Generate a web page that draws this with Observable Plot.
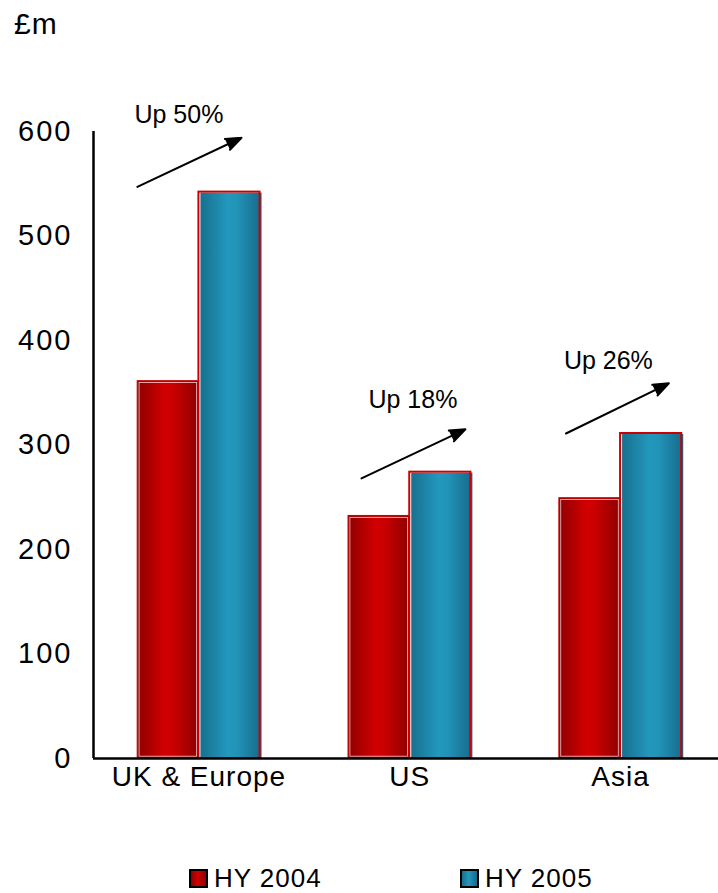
<!DOCTYPE html>
<html>
<head>
<meta charset="utf-8">
<script src="https://cdn.jsdelivr.net/npm/d3@7"></script>
<script src="https://cdn.jsdelivr.net/npm/@observablehq/plot@0.6"></script>
<style>
  html, body { margin: 0; padding: 0; background: #fff; }
  body {
    width: 718px; height: 893px; position: relative; overflow: hidden;
    font-family: "Liberation Sans", Arial, Helvetica, sans-serif; color: #000;
  }
  #unit { position: absolute; left: 14px; top: 9px; font-size: 30px; line-height: 1; letter-spacing: 1px; }
  #chart { position: absolute; left: 0; top: 60px; }
  #chart svg { overflow: visible; font-family: "Liberation Sans", Arial, sans-serif; }
  #chart [aria-label="y-axis tick label"] text { letter-spacing: 2px; }
  #chart [aria-label="x-axis tick label"] text { letter-spacing: 1px; }
  .legend-item { position: absolute; top: 865px; display: flex; align-items: center; font-size: 26px; line-height: 1; letter-spacing: 1px; }
  .swatch { width: 15px; height: 15px; border: 2px solid #000; margin-right: 6px; }
  .sw2004 { background: linear-gradient(to right, #8e0000, #d20000 45%, #8e0000); }
  .sw2005 { background: linear-gradient(to right, #17708e, #2398bd 45%, #17698a); }
</style>
</head>
<body>
<div id="unit">£m</div>
<div id="chart"></div>
<div class="legend-item" style="left:189px"><div class="swatch sw2004"></div><span>HY 2004</span></div>
<div class="legend-item" style="left:460px"><div class="swatch sw2005"></div><span>HY 2005</span></div>
<script>
// Regional results, £m
const regions = ["UK & Europe", "US", "Asia"];
const hy2004 = [361, 232, 249];
const hy2005 = [542, 274, 311];
const growthLabels = ["Up 50%", "Up 18%", "Up 26%"];
const yTicks = [0, 100, 200, 300, 400, 500, 600];

// Growth annotation layout: [offset from group centre, £m level]
const arrowStart = [[-0.292, 547], [-0.229, 268], [-0.259, 311]];
const arrowEnd   = [[0.202, 594], [0.264, 315], [0.229, 359]];
const labelAt    = [[-0.095, 616], [0.015, 343], [-0.058, 380]];

const half = 0.29; // width of one bar, in group units
const idx = d3.range(regions.length);

const chart = Plot.plot({
  width: 718,
  height: 770,
  marginLeft: 93,
  marginRight: 0,
  marginTop: 71,
  marginBottom: 72,
  x: { type: "linear", domain: [-0.5, 2.5], range: [93, 725.5] },
  y: { domain: [0, 600] },
  marks: [
    // HY 2004 bars
    Plot.rect(idx, {
      x1: i => i - half, x2: i => i, y1: 0, y2: i => hy2004[i],
      fill: "url(#gradRed)", stroke: "#c80000", strokeWidth: 1.2
    }),
    Plot.rect(idx, {
      x1: i => i - half, x2: i => i, y1: 0, y2: i => hy2004[i],
      fill: "none", stroke: "#ffffff", strokeWidth: 0.8, inset: 1.8, strokeOpacity: 0.8
    }),
    // HY 2005 bars: teal body with red outline
    Plot.rect(idx, {
      x1: i => i, x2: i => i + half, y1: 0, y2: i => hy2005[i],
      fill: "url(#gradBlue)", dx: 2, dy: 1
    }),
    Plot.rect(idx, {
      x1: i => i, x2: i => i + half, y1: 0, y2: i => hy2005[i],
      fill: "none", stroke: "#cc0000", strokeWidth: 2
    }),
    // axes
    Plot.ruleY([0], { stroke: "#000", strokeWidth: 2.5 }),
    Plot.ruleX([-0.5], { y1: 0, y2: 600, stroke: "#000", strokeWidth: 2.5 }),
    Plot.axisY({
      ticks: yTicks, tickSize: 0, tickPadding: 21, fontSize: 29, tickFormat: d => String(d)
    }),
    Plot.axisX({
      ticks: idx, tickSize: 0, tickPadding: 8, fontSize: 28, tickFormat: i => regions[i]
    }),
    // growth arrows and labels
    Plot.arrow(idx, {
      x1: i => i + arrowStart[i][0], y1: i => arrowStart[i][1],
      x2: i => i + arrowEnd[i][0], y2: i => arrowEnd[i][1],
      stroke: "#000", fill: "#000", strokeWidth: 2, headLength: 12.5, headAngle: 42
    }),
    Plot.text(idx, {
      x: i => i + labelAt[i][0], y: i => labelAt[i][1],
      text: i => growthLabels[i], fontSize: 25, fill: "#000"
    })
  ]
});

// Horizontal shading for the bars
const defs = d3.select(chart).insert("defs", ":first-child");
function shade(id, stops) {
  const g = defs.append("linearGradient").attr("id", id)
    .attr("x1", "0").attr("x2", "1").attr("y1", "0").attr("y2", "0");
  for (const [o, c] of stops) g.append("stop").attr("offset", o).attr("stop-color", c);
}
shade("gradRed", [["0", "#8e0000"], ["0.45", "#d20000"], ["0.6", "#c80000"], ["1", "#8e0000"]]);
shade("gradBlue", [["0", "#17708e"], ["0.45", "#2398bd"], ["0.6", "#2193b6"], ["1", "#17698a"]]);

document.getElementById("chart").appendChild(chart);
</script>
</body>
</html>
